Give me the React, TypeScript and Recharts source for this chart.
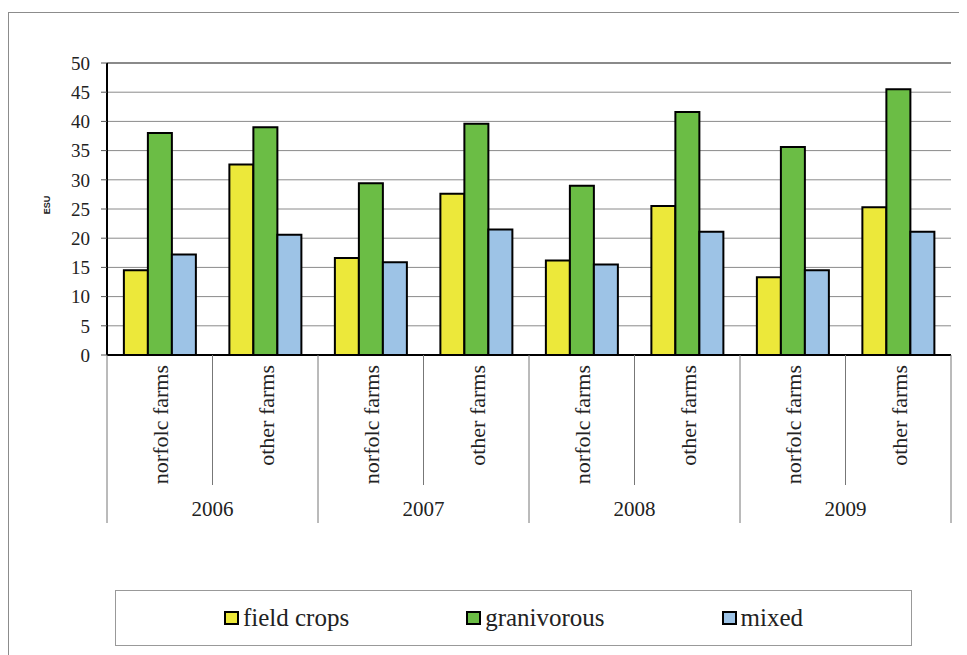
import { Bar, BarChart, CartesianGrid, ReferenceLine, XAxis, YAxis } from 'recharts';

const years = ['2006', '2007', '2008', '2009'];
const farmTypes = ['norfolc farms', 'other farms'];

// order: 2006 norfolc, 2006 other, 2007 norfolc, ...
const fieldCrops = [14.5, 32.6, 16.6, 27.6, 16.2, 25.5, 13.3, 25.3];
const granivorous = [38.0, 39.0, 29.4, 39.6, 29.0, 41.6, 35.6, 45.5];
const mixed = [17.2, 20.6, 15.9, 21.5, 15.5, 21.1, 14.5, 21.1];

const yTicks = [0, 5, 10, 15, 20, 25, 30, 35, 40, 45, 50];

const series = [
  { key: 'fieldCrops', name: 'field crops', color: '#ECE83A' },
  { key: 'granivorous', name: 'granivorous', color: '#6BBD45' },
  { key: 'mixed', name: 'mixed', color: '#9DC3E6' },
];

const data = years.flatMap((year, yi) =>
  farmTypes.map((farm, fi) => {
    const i = yi * farmTypes.length + fi;
    return {
      key: `${year}-${farm}`,
      year,
      farm,
      fieldCrops: fieldCrops[i],
      granivorous: granivorous[i],
      mixed: mixed[i],
    };
  })
);

const serif = 'Liberation Serif, serif';

function CategoryTick(props: any) {
  const { x, y, payload } = props;
  const idx = payload?.index ?? props.index ?? 0;
  const half = payload?.offset ?? 52.8;
  const row = data[idx];
  const firstOfYear = idx % farmTypes.length === 0;
  const last = idx === data.length - 1;
  return (
    <g>
      <line x1={x - half} y1={y} x2={x - half} y2={y + (firstOfYear ? 168 : 130)} stroke="#777" strokeWidth={1} />
      {last && <line x1={x + half} y1={y} x2={x + half} y2={y + 168} stroke="#777" strokeWidth={1} />}
      <g transform={`translate(${x + 1},${y + 10}) rotate(-90)`}>
        <text textAnchor="end" dy="0.35em" fontSize={22} fill="#222" style={{ fontFamily: serif }}>
          {row?.farm}
        </text>
      </g>
      {firstOfYear && (
        <text x={x + half} y={y + 154} dy="0.35em" textAnchor="middle" fontSize={21} fill="#222" style={{ fontFamily: serif }}>
          {row?.year}
        </text>
      )}
    </g>
  );
}

export default function App() {
  return (
    <div
      style={{
        position: 'relative',
        marginTop: 4,
        width: 958,
        height: 650,
        border: '1px solid #8c8c8c',
        background: '#fff',
        fontFamily: serif,
      }}
    >
      <div style={{ position: 'absolute', left: 0, top: 0 }}>
        <BarChart
          width={950}
          height={520}
          data={data}
          margin={{ top: 50, right: 8, left: 0, bottom: 10 }}
          barCategoryGap="16%"
          barGap={0}
          style={{ fontFamily: serif }}
        >
          <CartesianGrid vertical={false} stroke="#8a8a8a" strokeWidth={1} />
          <ReferenceLine y={50} stroke="#8a8a8a" strokeWidth={2} />
          <XAxis
            dataKey="key"
            interval={0}
            height={168}
            tickSize={0}
            tickMargin={0}
            tickLine={false}
            axisLine={{ stroke: '#000', strokeWidth: 2 }}
            tick={<CategoryTick />}
          />
          <YAxis
            width={98}
            domain={[0, 50]}
            ticks={yTicks}
            interval={0}
            tickSize={6}
            tickMargin={11}
            tickLine={{ stroke: '#555' }}
            axisLine={{ stroke: '#000', strokeWidth: 2 }}
            tick={{ fontSize: 19, fill: '#222', style: { fontFamily: serif } }}
            label={{
              value: 'ESU',
              angle: -90,
              position: 'center',
              dx: -11,
              dy: -4,
              style: { fontSize: 9, fontWeight: 'bold', fill: '#222', fontFamily: 'Liberation Sans, Arial, sans-serif' },
            }}
          />
          <YAxis
            yAxisId="right"
            orientation="right"
            width={0}
            tick={false}
            tickLine={false}
            axisLine={{ stroke: '#8a8a8a', strokeWidth: 2 }}
          />
          {series.map((s) => (
            <Bar
              key={s.key}
              dataKey={s.key}
              name={s.name}
              fill={s.color}
              stroke="#000"
              strokeWidth={2}
              isAnimationActive={false}
            />
          ))}
        </BarChart>
      </div>
      <div
        style={{
          position: 'absolute',
          left: 106,
          top: 577,
          width: 795,
          height: 54,
          border: '1px solid #999',
          display: 'flex',
          alignItems: 'center',
          justifyContent: 'center',
          gap: 117,
          fontSize: 25,
          color: '#222',
        }}
      >
        {series.map((s) => (
          <div key={s.key} style={{ display: 'flex', alignItems: 'center' }}>
            <span
              style={{
                display: 'inline-block',
                width: 11,
                height: 10,
                background: s.color,
                border: '2px solid #000',
                marginRight: 4,
              }}
            />
            <span>{s.name}</span>
          </div>
        ))}
      </div>
    </div>
  );
}
